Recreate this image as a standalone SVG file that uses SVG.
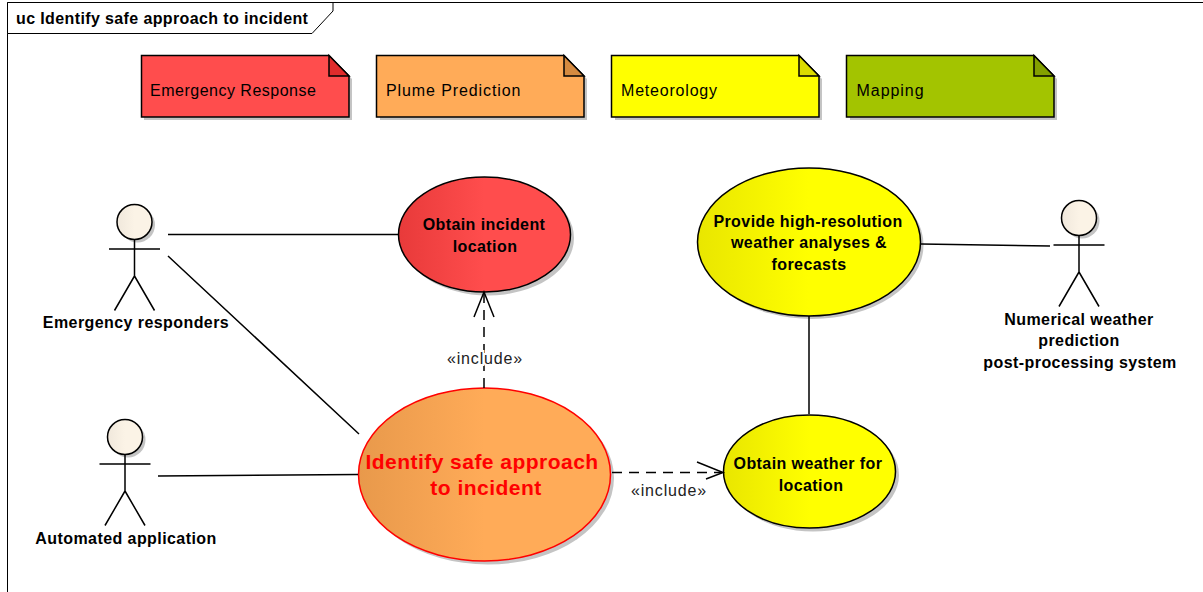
<svg xmlns="http://www.w3.org/2000/svg" width="1203" height="592" viewBox="0 0 1203 592">
<style>
text{font-family:"Liberation Sans",Arial,sans-serif;fill:#000}
.b{font-weight:bold;font-size:16px;letter-spacing:.42px;text-anchor:middle}
.n{font-size:16px;letter-spacing:.5px}
.inc{font-size:16px;text-anchor:middle;letter-spacing:.85px;fill:#222}
.r{font-size:21px;font-weight:bold;letter-spacing:.47px;text-anchor:middle}
.o{stroke:#000;stroke-width:1.5}
.sh{fill:#c4c4c4;stroke:none}
.l{fill:none;stroke:#000;stroke-width:1.5}
.d{fill:none;stroke:#000;stroke-width:1.5;stroke-dasharray:10 7}
</style>
<defs>
<linearGradient id="gr"><stop offset="0" stop-color="#e83a3a"/><stop offset=".5" stop-color="#ff4d4d"/></linearGradient>
<linearGradient id="gy"><stop offset="0" stop-color="#e9e600"/><stop offset=".5" stop-color="#ffff00"/></linearGradient>
<linearGradient id="go"><stop offset="0" stop-color="#e8994b"/><stop offset=".5" stop-color="#ffab58"/></linearGradient>
<linearGradient id="ga"><stop offset="0" stop-color="#f0e8dc"/><stop offset=".5" stop-color="#fbf3e6"/></linearGradient>
<g id="actor">
<circle cx="3" cy="3" r="17.500" class="sh"/>
<circle cx="0" cy="0" r="17.500" fill="url(#ga)" class="o"/>
<path d="M0 17.500V54M-25.500 27H25.500M0 54L-20 88.500M0 54L20 88.500" class="l"/>
</g>
</defs>
<g id="frame">
<path d="M7.500 592V2.500H1203" fill="none" stroke="#000"/>
<path d="M7.500 2.500H333V11L312 33.500H7.500Z" fill="#fff" stroke="#000"/>
<text x="16" y="24" font-size="16" font-weight="bold" letter-spacing=".38">uc Identify safe approach to incident</text>
</g>
<g id="note-emergency">
<path class="sh" d="M144 59H332L352 79V120H144Z"/>
<path class="o" fill="#ff4d4d" d="M141.500 55.500H329L349 76V117H141.500Z"/>
<path class="o" fill="#e02c2c" d="M329 55.500V76H349Z"/>
<text class="n" x="150" y="96">Emergency Response</text>
</g>
<g id="note-plume">
<path class="sh" d="M380 59H567L587 79V120H380Z"/>
<path class="o" fill="#ffab58" d="M376.500 55.500H564L584 76V117H376.500Z"/>
<path class="o" fill="#d58a40" d="M564 55.500V76H584Z"/>
<text class="n" x="386" y="96" style="letter-spacing:.9px">Plume Prediction</text>
</g>
<g id="note-meteorology">
<path class="sh" d="M615 59H802L822 79V120H615Z"/>
<path class="o" fill="#ffff00" d="M611.500 55.500H799L819 76V117H611.500Z"/>
<path class="o" fill="#dcdc00" d="M799 55.500V76H819Z"/>
<text class="n" x="621" y="96" style="letter-spacing:.8px">Meteorology</text>
</g>
<g id="note-mapping">
<path class="sh" d="M850 59H1037L1057 79V120H850Z"/>
<path class="o" fill="#a3c400" d="M846.500 55.500H1034L1054 76V117H846.500Z"/>
<path class="o" fill="#83a000" d="M1034 55.500V76H1054Z"/>
<text class="n" x="856.500" y="96" style="letter-spacing:.95px">Mapping</text>
</g>
<g id="actor-emergency">
<use href="#actor" x="134.500" y="222"/>
<text class="b" x="136" y="328">Emergency responders</text>
</g>
<g id="actor-automated">
<use href="#actor" x="125" y="437"/>
<text class="b" x="126" y="544">Automated application</text>
</g>
<g id="actor-nwp">
<use href="#actor" x="1079" y="218"/>
<text class="b" x="1079" y="325">Numerical weather</text>
<text class="b" x="1079" y="346">prediction</text>
<text class="b" x="1080" y="368">post-processing system</text>
</g>
<g id="uc-incident">
<ellipse class="sh" cx="488" cy="238" rx="86" ry="57.500"/>
<ellipse class="o" fill="url(#gr)" cx="484.500" cy="234.500" rx="86" ry="57.500"/>
<text class="b" x="484" y="230">Obtain incident</text>
<text class="b" x="485" y="252">location</text>
</g>
<g id="uc-forecast">
<ellipse class="sh" cx="812" cy="245" rx="111.500" ry="74"/>
<ellipse class="o" fill="url(#gy)" cx="809" cy="242" rx="111.500" ry="74"/>
<text class="b" x="808" y="227">Provide high-resolution</text>
<text class="b" x="809" y="248">weather analyses &amp;</text>
<text class="b" x="809" y="270">forecasts</text>
</g>
<g id="uc-identify">
<ellipse class="sh" cx="488" cy="478" rx="126" ry="86.500"/>
<ellipse fill="url(#go)" stroke="#ff0000" stroke-width="1.500" cx="484.500" cy="474.500" rx="126" ry="86.500"/>
<text class="r" x="482" y="469" style="fill:#ff0000">Identify safe approach</text>
<text class="r" x="486" y="495" style="fill:#ff0000">to incident</text>
</g>
<g id="uc-weather">
<ellipse class="sh" cx="813" cy="475" rx="86" ry="56.500"/>
<ellipse class="o" fill="url(#gy)" cx="809.500" cy="471.500" rx="86" ry="56.500"/>
<text class="b" x="808" y="469">Obtain weather for</text>
<text class="b" x="811" y="491">location</text>
</g>
<g id="connectors">
<path class="l" d="M168 234.500H398M168 256L359 434M158 476L358 474.500M921 244L1050 246M809 316V414"/>
<path class="d" d="M484 388V293"/>
<path class="l" d="M474 317L484 292L494 317"/>
<path class="d" d="M612 472.500H722"/>
<path class="l" d="M697 462L723 472.500L706 479"/>
<text class="inc" x="485" y="364" style="paint-order:stroke" stroke="#fff" stroke-width="4">«include»</text>
<text class="inc" x="669" y="496">«include»</text>
</g>
</svg>
